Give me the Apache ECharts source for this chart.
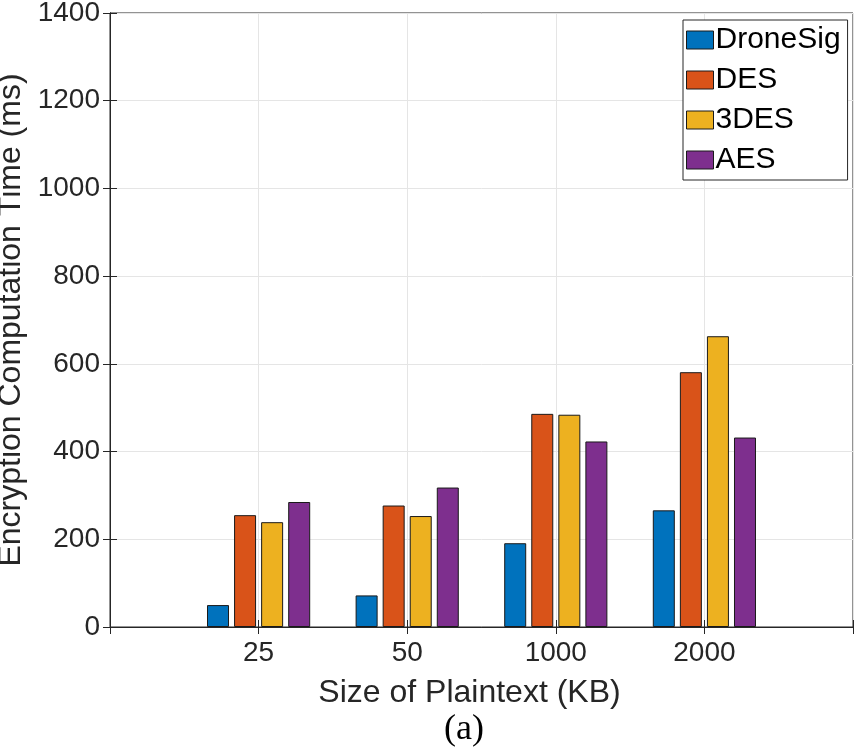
<!DOCTYPE html>
<html>
<head>
<meta charset="utf-8">
<script src="https://cdn.jsdelivr.net/npm/echarts@6/dist/echarts.min.js"></script>
<style>html,body{margin:0;padding:0;background:#fff;}#c{width:857px;height:749px;}</style>
</head>
<body>
<div id="c"></div>
<script>
var categories = ['25', '50', '1000', '2000'];
var seriesNames = ['DroneSig', 'DES', '3DES', 'AES'];
var droneSig = [50, 72, 191, 266];
var des = [255, 277, 486, 581];
var tdes = [239, 253, 484, 663];
var aes = [285, 318, 423, 432];
var colors = ['#0072BD', '#D95319', '#EDB120', '#7E2F8E'];
var yTicks = [0, 200, 400, 600, 800, 1000, 1200, 1400];

var allValues = [droneSig, des, tdes, aes];
var chart = echarts.init(document.getElementById('c'), null, {renderer: 'canvas'});
var font = 'Liberation Sans, Arial, Helvetica, sans-serif';
var txt = '#262626';

var series = allValues.map(function (vals, i) {
  return {
    name: seriesNames[i],
    type: 'bar',
    xAxisIndex: 0,
    yAxisIndex: 0,
    barWidth: 22,
    barGap: '23%',
    data: vals.map(function (v, j) { return [j + 1, v]; }),
    itemStyle: {color: colors[i], borderColor: '#1a1a1a', borderWidth: 1},
    emphasis: {disabled: true}
  };
});

chart.setOption({
  animation: false,
  backgroundColor: '#fff',
  grid: {left: 110, right: 4, top: 13, bottom: 122, show: true, borderColor: txt, borderWidth: 1,
    containLabel: false, outerBoundsMode: 'none'},
  title: {
    text: '(a)', left: 439, top: 707,
    textStyle: {fontFamily: 'Liberation Serif, Times New Roman, serif', fontSize: 36, fontWeight: 'normal', color: '#000'}
  },
  legend: {
    orient: 'vertical', left: 683, top: 20,
    data: seriesNames,
    itemWidth: 27, itemHeight: 18, itemGap: 10,
    padding: [5, 7, 5, 3],
    backgroundColor: '#fff', borderColor: '#262626', borderWidth: 1, borderRadius: 0,
    icon: 'rect',
    itemStyle: {borderColor: '#1a1a1a', borderWidth: 1},
    textStyle: {fontFamily: font, fontSize: 30, lineHeight: 30, color: '#000', padding: [0, 0, 0, -3]}
  },
  xAxis: [{
    type: 'value', min: 0, max: 5, interval: 1,
    name: 'Size of Plaintext (KB)', nameLocation: 'middle', nameGap: 50,
    nameTextStyle: {fontFamily: font, fontSize: 32, color: txt, padding: [0, 24, 0, 0]},
    axisLine: {show: true, lineStyle: {color: txt, width: 1}},
    axisTick: {show: true, inside: true, length: 7, lineStyle: {color: txt}},
    axisLabel: {fontFamily: font, fontSize: 28, color: txt, margin: 12,
      formatter: function (v) { return (v >= 1 && v <= 4) ? categories[v - 1] : ''; }},
    splitLine: {show: true, lineStyle: {color: '#e5e5e5', width: 1}}
  }, {
    type: 'value', min: 0, max: 5, interval: 1, position: 'top',
    axisLine: {show: true, lineStyle: {color: txt, width: 1}},
    axisTick: {show: true, inside: true, length: 7, lineStyle: {color: txt}},
    axisLabel: {show: false}, splitLine: {show: false}
  }],
  yAxis: [{
    type: 'value', min: 0, max: 1400, interval: 200,
    name: 'Encryption Computation Time (ms)', nameLocation: 'middle', nameGap: 72,
    nameTextStyle: {fontFamily: font, fontSize: 32, color: txt},
    axisLine: {show: true, lineStyle: {color: txt, width: 1}},
    axisTick: {show: true, inside: true, length: 7, lineStyle: {color: txt}},
    axisLabel: {fontFamily: font, fontSize: 28, color: txt, margin: 10,
      formatter: function (v) { return yTicks.indexOf(v) >= 0 ? String(v) : ''; }},
    splitLine: {show: true, lineStyle: {color: '#e5e5e5', width: 1}}
  }, {
    type: 'value', min: 0, max: 1400, interval: 200, position: 'right',
    axisLine: {show: true, lineStyle: {color: txt, width: 1}},
    axisTick: {show: true, inside: true, length: 7, lineStyle: {color: txt}},
    axisLabel: {show: false}, splitLine: {show: false}
  }],
  series: series
});
</script>
</body>
</html>
